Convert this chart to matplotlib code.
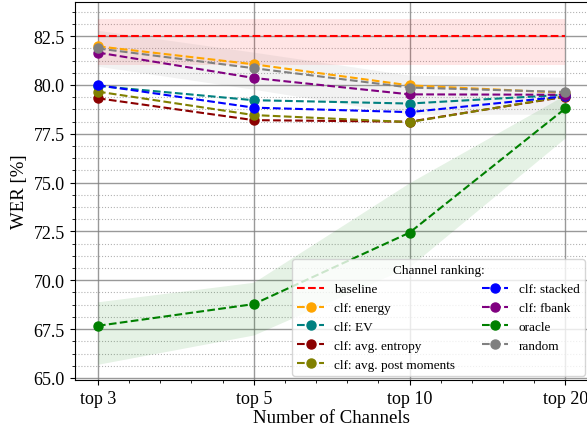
import numpy as np
import matplotlib.pyplot as plt
from matplotlib.ticker import AutoMinorLocator

plt.rcParams['font.family'] = ['Liberation Serif', 'DejaVu Serif']
plt.rcParams['mathtext.fontset'] = 'stix'

x_labels = ['top 3', 'top 5', 'top 10', 'top 20']

baseline = [82.5, 82.5, 82.5, 82.5]
baseline_lo = [81.0, 81.0, 81.0, 81.0]
baseline_hi = [83.4, 83.4, 83.4, 83.4]

energy = [81.98, 81.06, 79.98, 79.6]
ev = [79.95, 79.22, 79.05, 79.5]
entropy = [79.32, 78.2, 78.12, 79.4]
post_moments = [79.66, 78.46, 78.1, 79.42]
stacked = [79.99, 78.84, 78.61, 79.42]
fbank = [81.66, 80.36, 79.52, 79.5]
oracle = [67.67, 68.78, 72.44, 78.8]
oracle_lo = [65.7, 67.2, 70.7, 77.3]
oracle_hi = [68.9, 69.9, 75.0, 79.5]
random_ = [81.87, 80.86, 79.87, 79.64]
random_lo = [80.96, 79.78, 78.5, 78.5]
random_hi = [82.8, 81.68, 80.5, 80.4]

fig = plt.figure(figsize=(5.87, 4.27), dpi=100)
ax = fig.add_axes([0.127, 0.108, 0.876, 0.885])

x = np.arange(len(x_labels))

# shaded spreads
ax.fill_between(x, baseline_lo, baseline_hi, color='red', alpha=0.1, lw=0)
ax.fill_between(x, random_lo, random_hi, color='gray', alpha=0.1, lw=0)
ax.fill_between(x, oracle_lo, oracle_hi, color='green', alpha=0.1, lw=0)

ax.plot(x, baseline, '--', color='red', lw=1.5, label='baseline')
series = [
    (energy, 'orange', 'clf: energy'),
    (ev, 'teal', 'clf: EV'),
    (entropy, 'darkred', 'clf: avg. entropy'),
    (post_moments, 'olive', 'clf: avg. post moments'),
    (stacked, 'blue', 'clf: stacked'),
    (fbank, 'purple', 'clf: fbank'),
    (oracle, 'green', 'oracle'),
    (random_, 'gray', 'random'),
]
for vals, c, lab in series:
    ax.plot(x, vals, '--o', color=c, lw=1.5, ms=6.5, label=lab)

ax.set_xticks(x)
ax.set_xticklabels(x_labels)
ax.set_xlim(-0.15, 3.15)
ax.set_ylim(64.9, 84.25)
ax.set_yticks(np.arange(65.0, 84.0, 2.5))
ax.xaxis.set_minor_locator(AutoMinorLocator(5))
ax.yaxis.set_minor_locator(AutoMinorLocator(4))
ax.tick_params(labelsize=13)

ax.grid(which='major', color='gray', lw=1, alpha=0.8)
ax.grid(which='minor', axis='y', color='gray', ls=':', lw=0.8, alpha=0.6)
ax.set_axisbelow(True)

ax.set_xlabel('Number of Channels', fontsize=13.5, labelpad=2)
ax.set_ylabel('WER [%]', fontsize=13.5)

ax.legend(title='Channel ranking:', ncol=2, loc='lower right', fontsize=9.5,
          title_fontsize=9.5, borderaxespad=0.3, labelspacing=0.5)

fig.savefig('out.png', dpi=100)
